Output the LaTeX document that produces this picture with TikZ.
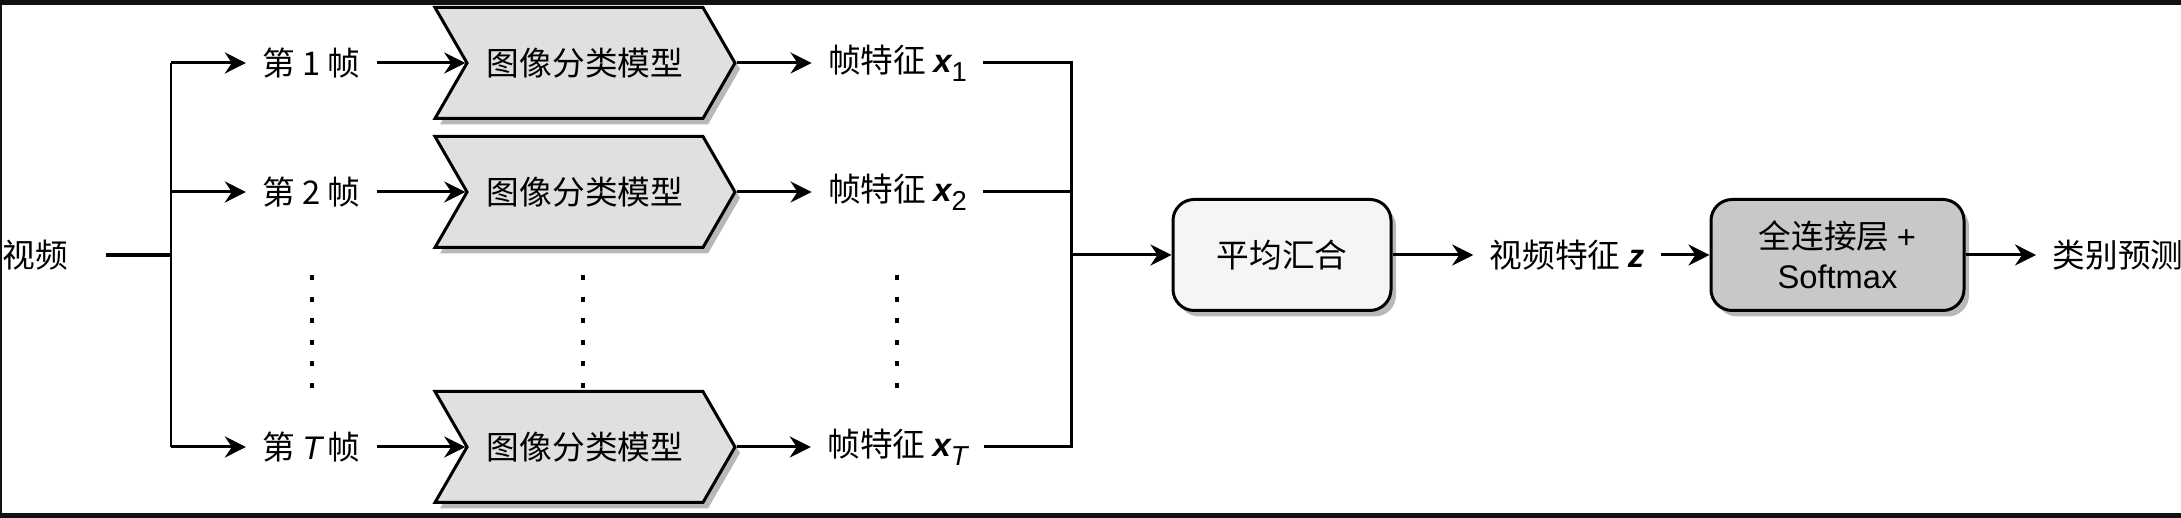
\documentclass[tikz,border=0pt]{standalone}
\usepackage{fontspec}
\setmainfont{Noto Sans CJK SC}
\newfontfamily\latfont{Liberation Sans}
\usetikzlibrary{arrows.meta, shapes.symbols, shadows}
\definecolor{bgdark}{HTML}{121212}
\definecolor{modelgray}{HTML}{E0E0E0}
\definecolor{poolgray}{HTML}{F5F5F5}
\definecolor{fcgray}{HTML}{C8C8C8}
\newcommand{\featx}[1]{{\latfont\bfseries\itshape x}\raisebox{-0.5ex}{\latfont\fontsize{7.8}{9}\selectfont #1}}

\begin{document}
\begin{tikzpicture}[
    every node/.style={font=\fontsize{9.3}{11.5}\selectfont},
    lbl/.style={inner sep=4.5pt},
    model/.style={signal, signal from=west, signal to=east, signal pointer angle=120,
                  draw, line width=0.85pt, fill=modelgray, minimum width=3cm, minimum height=1.11cm,
                  drop shadow={shadow xshift=0.05cm, shadow yshift=-0.06cm, fill=black, opacity=0.28}},
    stage/.style={draw, rounded corners=6pt, line width=0.85pt, fill=#1, minimum height=1.11cm,
                  align=center,
                  drop shadow={shadow xshift=0.05cm, shadow yshift=-0.06cm, fill=black, opacity=0.28}},
    link/.style={line width=0.85pt, -{Stealth[length=6pt, width=6pt, inset=2pt]}},
    wire/.style={line width=0.85pt},
    vdots/.style={line width=0.9pt, dash pattern=on 1.4pt off 4.75pt},
]
    \useasboundingbox (0,0) rectangle (21.81,-5.18);
    \fill[bgdark] (0,0) rectangle (21.81,-5.18);
    \fill[white] (0.02,-0.05) rectangle (21.81,-5.13);

    % input
    \node[lbl, inner xsep=10.5pt] (video) at (0.355,-2.55) {视频};
    \coordinate (split) at (1.71,-2.55);
    \draw[line width=1.3pt] (video.east) -- (split);

    % frames
    \node[lbl] (f1) at (3.115,-0.63) {第 1 帧};
    \node[lbl] (f2) at (3.115,-1.92) {第 2 帧};
    \node[lbl] (fT) at (3.115,-4.47) {第 {\latfont\itshape T}\,帧};

    \draw[wire] (f1.west -| split) -- (fT.west -| split);
    \draw[link] (f1.west -| split) -- (f1.west);
    \draw[link] (f2.west -| split) -- (f2.west);
    \draw[link] (fT.west -| split) -- (fT.west);

    % per-frame models
    \node[model] (m1) at (5.85,-0.63) {图像分类模型};
    \node[model] (m2) at (5.85,-1.92) {图像分类模型};
    \node[model] (mT) at (5.85,-4.47) {图像分类模型};

    \draw[link] (f1.east) -- (m1.west);
    \draw[link] (f2.east) -- (m2.west);
    \draw[link] (fT.east) -- (mT.west);

    % frame features
    \node[lbl] (h1) at (8.975,-0.63) {帧特征 \featx{1}};
    \node[lbl] (h2) at (8.975,-1.92) {帧特征 \featx{2}};
    \node[lbl] (hT) at (8.975,-4.47) {帧特征 \featx{\itshape T}};

    \draw[link] (m1.east) -- (h1.west);
    \draw[link] (m2.east) -- (h2.west);
    \draw[link] (mT.east) -- (hT.west);

    % elided rows
    \draw[vdots] (3.12,-2.75) -- (3.12,-3.88);
    \draw[vdots] (5.83,-2.75) -- (5.83,-3.88);
    \draw[vdots] (8.97,-2.75) -- (8.97,-3.88);

    % pooling and classifier
    \coordinate (merge) at (10.71,-2.55);
    \draw[wire] (h1.east) -| (merge);
    \draw[wire] (hT.east) -| (merge);
    \draw[wire] (h2.east) -- (h2.east -| merge);

    \node[stage=poolgray, minimum width=2.18cm] (pool) at (12.82,-2.55) {平均汇合};
    \node[lbl] (vz) at (15.67,-2.55) {视频特征 {\latfont\bfseries\itshape z}};
    \node[stage=fcgray, minimum width=2.53cm] (fc) at (18.375,-2.55) {全连接层 {\latfont +}\\{\latfont Softmax}};
    \node[lbl] (pred) at (21.18,-2.55) {类别预测};

    \draw[link] (merge) -- (pool.west);
    \draw[link] (pool.east) -- (vz.west);
    \draw[link] (vz.east) -- (fc.west);
    \draw[link] (fc.east) -- (pred.west);
\end{tikzpicture}
\end{document}
